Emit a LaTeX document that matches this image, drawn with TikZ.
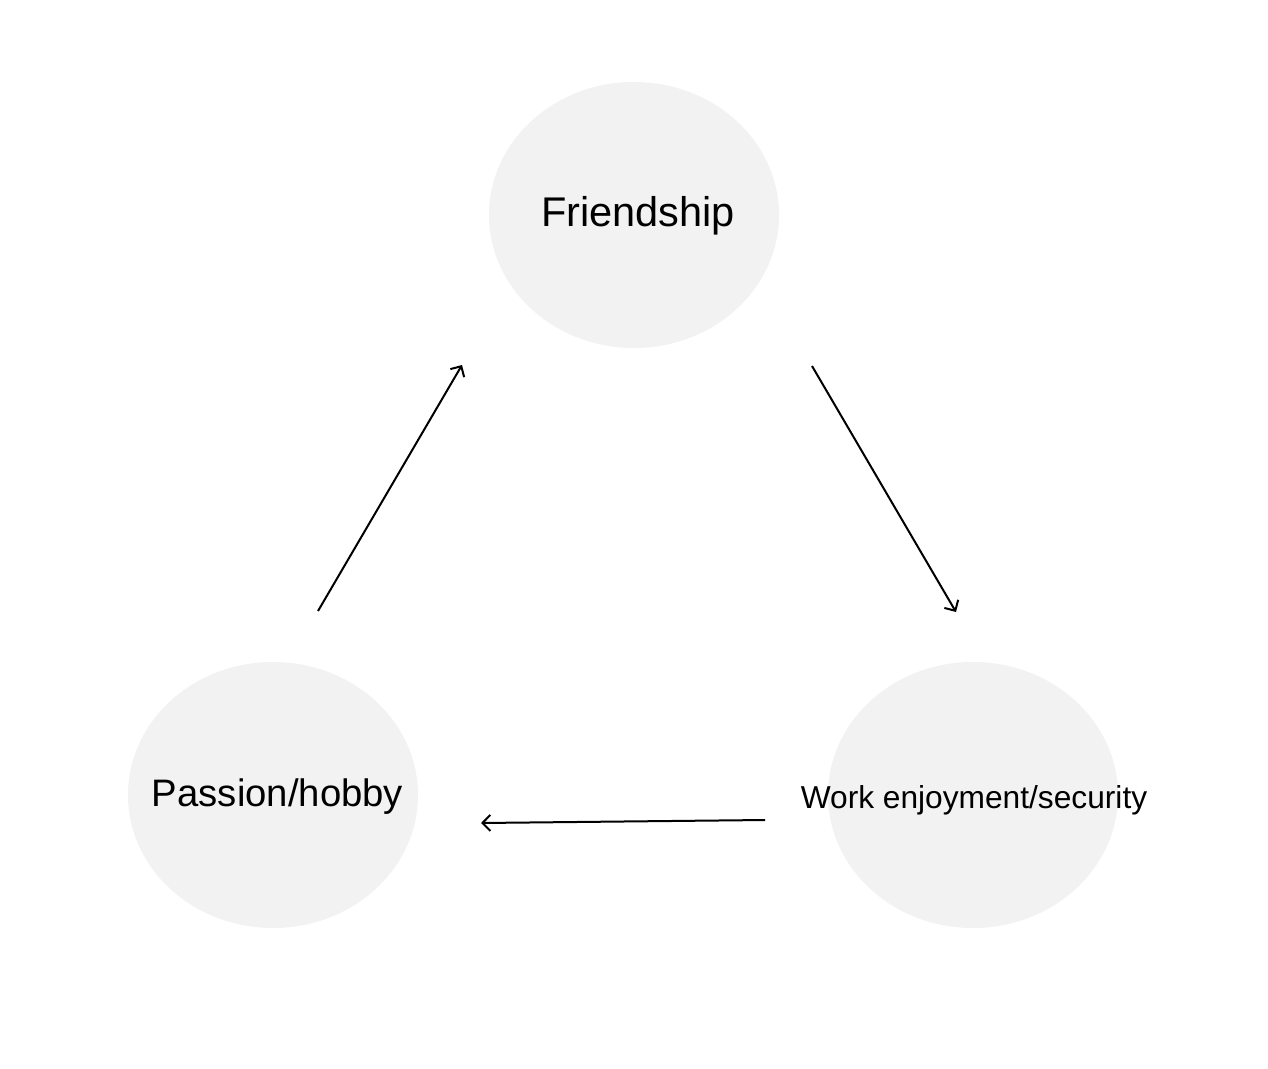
\documentclass[tikz,border=0pt]{standalone}
\usepackage{fontspec}
\setmainfont{Liberation Sans}
\usetikzlibrary{shapes.geometric,arrows.meta}
\definecolor{bubblegray}{HTML}{F2F2F2}
\begin{document}
\begin{tikzpicture}[x=1pt,y=-1pt,
  bubble/.style={ellipse, fill=bubblegray, minimum width=290pt, minimum height=266pt, inner sep=0pt},
  lbl/.style={inner sep=0pt, anchor=base, text=black},
  link/.style={draw=black, line width=2pt, -{Straight Barb[length=8pt,width=16pt,line width=2pt]}}]
\useasboundingbox (0,0) rectangle (1268,1068);
\fill[white] (0,0) rectangle (1268,1068);
% bubbles
\node[bubble] (fr) at (634,215) {};
\node[bubble] (pa) at (273,795) {};
\node[bubble] (wo) at (973,795) {};
% labels
\node[lbl, font=\fontsize{41.5}{50}\selectfont] (frl) at (638,226) {Friendship};
\node[lbl, font=\fontsize{38.3}{46}\selectfont] (pal) at (277.5,806) {Passion/hobby};
\node[lbl, font=\fontsize{31.7}{38}\selectfont] (wol) at (974,808) {Work enjoyment/security};
% connector ends
\coordinate (a1) at (318,611);
\coordinate (a2) at (462,365);
\coordinate (b1) at (812,366);
\coordinate (b2) at (956,612);
\coordinate (c1) at (765,820);
\coordinate (c2) at (481,823);
\draw[link] (a1) -- (a2);
\draw[link] (b1) -- (b2);
\draw[link] (c1) -- (c2);
\end{tikzpicture}
\end{document}
